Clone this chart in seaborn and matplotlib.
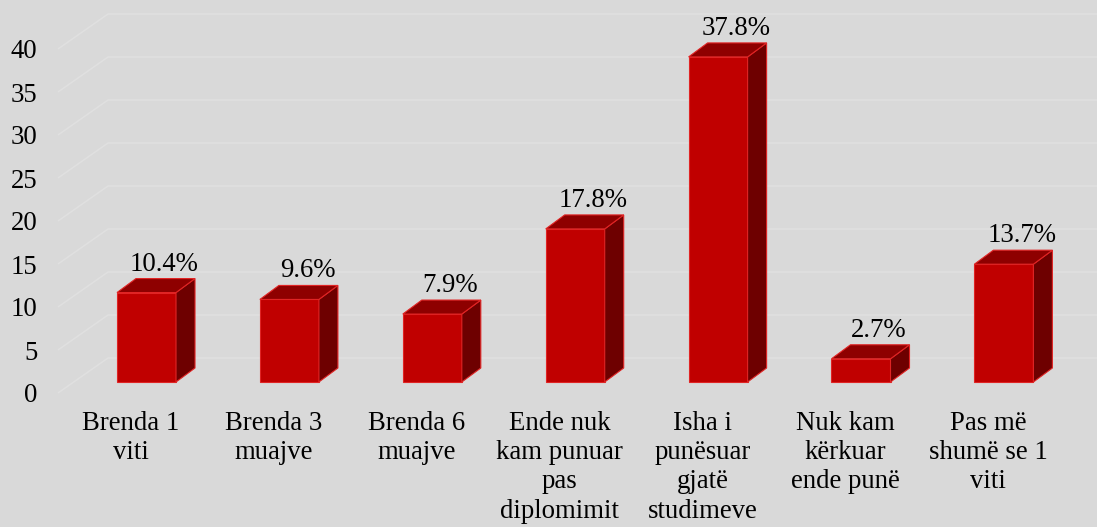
import numpy as np
import pandas as pd
import matplotlib
matplotlib.use("Agg")
import matplotlib.pyplot as plt
from matplotlib.patches import Polygon
import seaborn as sns

# ---------------- data ----------------
categories = [
    "Brenda 1\nviti",
    "Brenda 3\nmuajve",
    "Brenda 6\nmuajve",
    "Ende nuk\nkam punuar\npas\ndiplomimit",
    "Isha i\npunësuar\ngjatë\nstudimeve",
    "Nuk kam\nkërkuar\nende punë",
    "Pas më\nshumë se 1\nviti",
]
values = [10.4, 9.6, 7.9, 17.8, 37.8, 2.7, 13.7]
value_labels = ["10.4%", "9.6%", "7.9%", "17.8%", "37.8%", "2.7%", "13.7%"]
y_ticks = [0, 5, 10, 15, 20, 25, 30, 35, 40]

# ---------------- style ----------------
BG = "#d9d9d9"
FRONT = "#c00000"
TOP = "#8e0000"
SIDE = "#6e0000"
EDGE = "#e02424"
GRID = "#e0e0e0"
FS = 19.3

sns.set_theme(style="white")
plt.rcParams["font.family"] = ["Liberation Serif", "DejaVu Serif"]

W, H, DPI = 1097, 527, 100
fig = plt.figure(figsize=(W / DPI, H / DPI), dpi=DPI, facecolor=BG)
ax_l, ax_r, ax_t, ax_b = 58, 1097, 0, 400  # axes box in pixels (from top-left)
ax = fig.add_axes([ax_l / W, 1 - ax_b / H, (ax_r - ax_l) / W, (ax_b - ax_t) / H])
ax.set_facecolor(BG)

df = pd.DataFrame({"cat": categories, "val": values})
sns.barplot(data=df, x="cat", y="val", color=FRONT, saturation=1, width=0.413,
            edgecolor=EDGE, linewidth=0.8, ax=ax, zorder=3)

# scale: pixels per data unit
kx, ky = 142.9, 8.6
x0 = -88.5 / kx
x1 = x0 + (ax_r - ax_l) / kx
ax.set_xlim(x0, x1)
ax.set_ylim(-18 / ky, (ax_b - ax_t - 18) / ky)

# perspective offsets (pixels -> data)
fw_dy = -11 / ky          # front wall relative to bar front plane
fw_dx = -15.7 / kx
wall_dx, wall_dy = 50 / kx, 35 / ky   # front wall -> back wall
bar_dx, bar_dy = 19 / kx, 14 / ky     # bar depth

# back wall / floor gridlines
for v in y_ticks:
    yf = v + fw_dy
    ax.plot([x0, x0 + wall_dx, x1], [yf, yf + wall_dy, yf + wall_dy],
            color=GRID, lw=1.1, zorder=1, clip_on=False, solid_capstyle="butt")

# 3D faces of bars + value labels
for p, lbl in zip(ax.patches, value_labels):
    x, w, h = p.get_x(), p.get_width(), p.get_height()
    top = Polygon([(x, h), (x + w, h), (x + w + bar_dx, h + bar_dy), (x + bar_dx, h + bar_dy)],
                  closed=True, facecolor=TOP, edgecolor=EDGE, lw=0.8, zorder=3)
    side = Polygon([(x + w, 0), (x + w + bar_dx, bar_dy), (x + w + bar_dx, h + bar_dy), (x + w, h)],
                   closed=True, facecolor=SIDE, edgecolor=EDGE, lw=0.8, zorder=3)
    ax.add_patch(side)
    ax.add_patch(top)
    ax.annotate(lbl, xy=(x + w / 2, h), xytext=(18, 22), textcoords="offset pixels",
                ha="center", va="baseline", fontsize=FS, color="black", zorder=5)

# axes ticks / labels
ax.set_yticks([v + fw_dy for v in y_ticks], [str(v) for v in y_ticks])
ax.set_xticks([i + fw_dx for i in range(len(categories))], categories)
ax.tick_params(axis="y", length=0, pad=15, labelsize=FS, labelcolor="black")
ax.tick_params(axis="x", length=0, pad=8, labelsize=FS, labelcolor="black")
for t in ax.get_xticklabels():
    t.set_linespacing(1.22)
ax.set_xlabel("")
ax.set_ylabel("")
for s in ax.spines.values():
    s.set_visible(False)
ax.grid(False)

fig.savefig("out.png", dpi=DPI, facecolor=BG)
